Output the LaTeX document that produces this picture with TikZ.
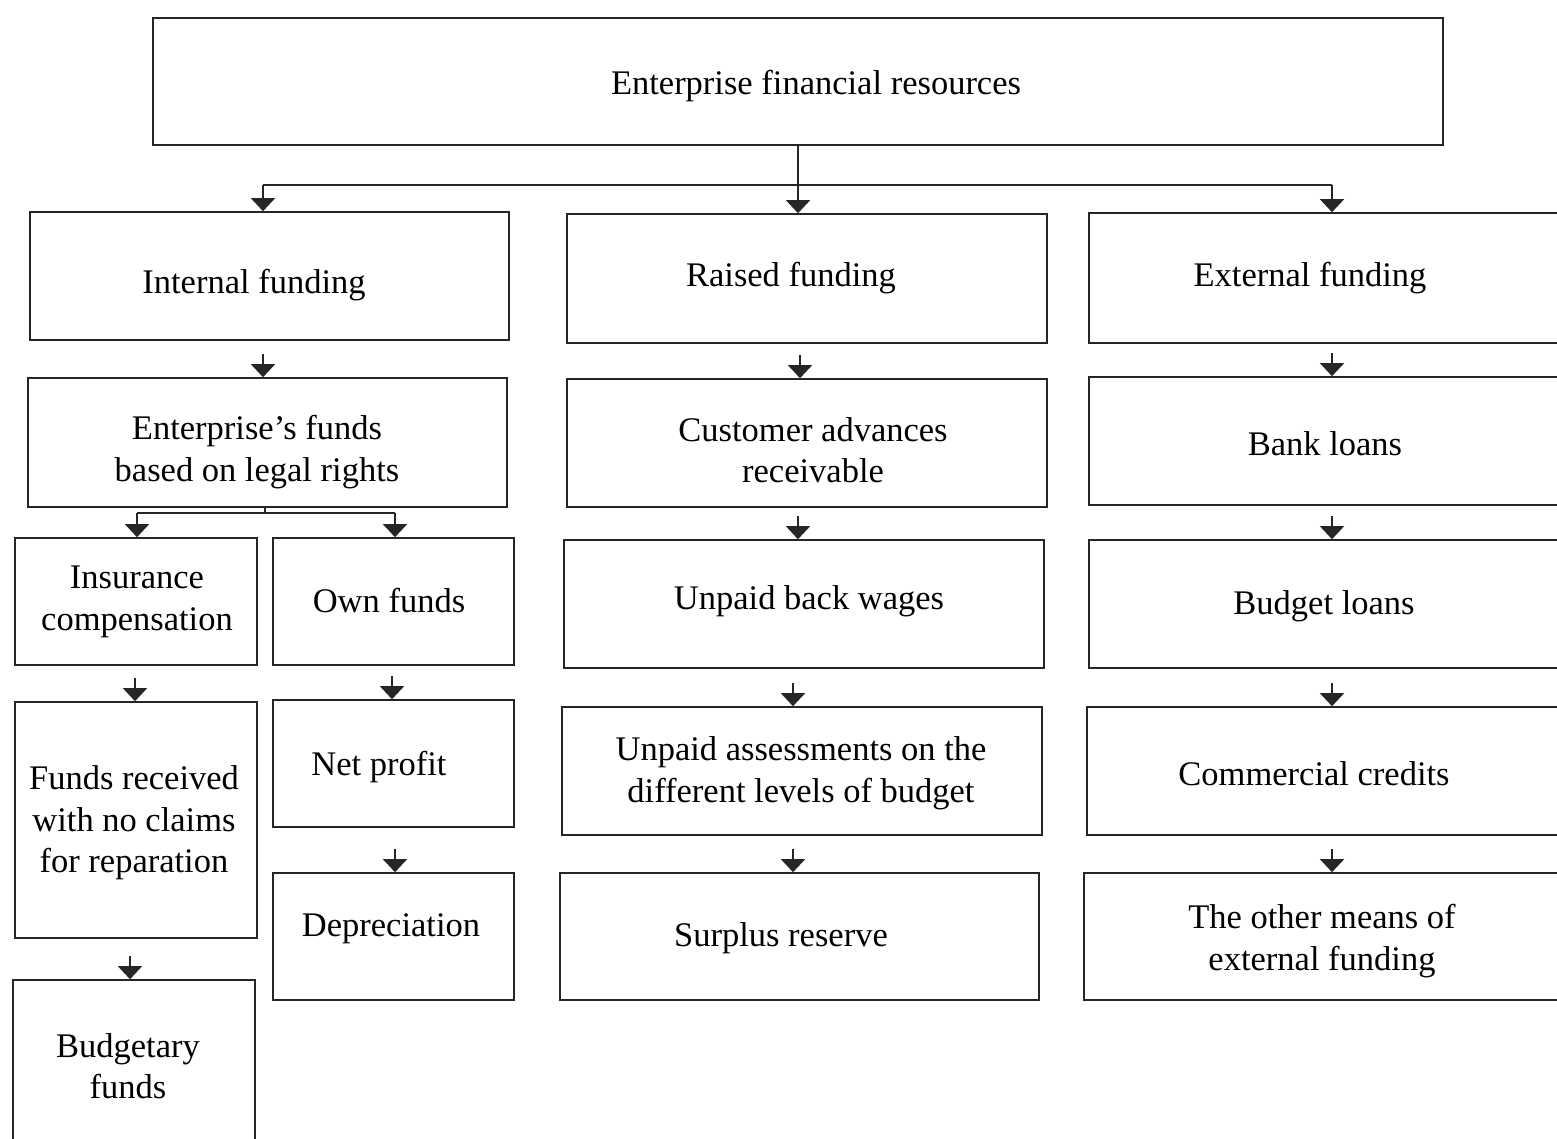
\documentclass[tikz,border=0pt]{standalone}
\usepackage{fontspec}
\setmainfont{Liberation Serif}
\usetikzlibrary{arrows.meta,fit,calc}
\newcommand\stubarrow[3]{\draw[arr] ($(#2.north -| #3,0)+(0,-23)$) -- (#2.north -| #3,0);}
\begin{document}
\begin{tikzpicture}[x=1pt,y=-1pt,
  box/.style={draw=black!85, line width=1.6pt, inner sep=0pt},
  lbl/.style={font=\fontsize{34.5}{41.5}\selectfont, align=center, inner sep=0pt, text=black, yshift=-3pt},
  con/.style={draw=black!85, line width=1.6pt},
  arr/.style={con, -{Triangle[width=24pt,length=13pt]}}]
\useasboundingbox (0,0) rectangle (1557,1138);

% boxes
\node[box, fit={(153,18) (1443,145)}] (top) {};
\node[box, fit={(30,212) (509,340)}] (int) {};
\node[box, fit={(567,214) (1047,343)}] (rai) {};
\node[box, fit={(1089,213) (1566,343)}] (ext) {};
\node[box, fit={(28,378) (507,507)}] (leg) {};
\node[box, fit={(567,379) (1047,507)}] (cus) {};
\node[box, fit={(1089,377) (1566,505)}] (bank) {};
\node[box, fit={(15,538) (257,665)}] (ins) {};
\node[box, fit={(273,538) (514,665)}] (own) {};
\node[box, fit={(564,540) (1044,668)}] (wag) {};
\node[box, fit={(1089,540) (1566,668)}] (bud) {};
\node[box, fit={(15,702) (257,938)}] (rec) {};
\node[box, fit={(273,700) (514,827)}] (net) {};
\node[box, fit={(562,707) (1042,835)}] (ass) {};
\node[box, fit={(1087,707) (1566,835)}] (com) {};
\node[box, fit={(273,873) (514,1000)}] (dep) {};
\node[box, fit={(560,873) (1039,1000)}] (sur) {};
\node[box, fit={(1084,873) (1566,1000)}] (oth) {};
\node[box, fit={(13,980) (255,1150)}] (bf) {};

% texts
\node[lbl] (ttop) at (816,83) {Enterprise financial resources};
\node[lbl] (tint) at (254,282) {Internal funding};
\node[lbl] (trai) at (791,275) {Raised funding};
\node[lbl] (text) at (1310,275) {External funding};
\node[lbl] (tleg) at (257,449) {Enterprise's funds\\based on legal rights};
\node[lbl] (tcus) at (813,447) {Customer advances\\receivable};
\node[lbl] (tbank) at (1325,441) {Bank loans};
\node[lbl] (tins) at (137,599) {Insurance\\compensation};
\node[lbl] (town) at (389,598) {Own funds};
\node[lbl] (twag) at (809,598) {Unpaid back wages};
\node[lbl] (tbud) at (1324,603) {Budget loans};
\node[lbl] (trec) at (134,820) {Funds received\\with no claims\\for reparation};
\node[lbl] (tnet) at (379,764) {Net profit};
\node[lbl] (tass) at (801,770) {Unpaid assessments on the\\different levels of budget};
\node[lbl] (tcom) at (1314,771) {Commercial credits};
\node[lbl] (tdep) at (391,926) {Depreciation};
\node[lbl] (tsur) at (781,935) {Surplus reserve};
\node[lbl] (toth) at (1322,938) {The other means of\\external funding};
\node[lbl] (tbf) at (128,1063) {Budgetary\\funds};

% top distribution
\coordinate (hl) at (263,185);
\coordinate (hr) at (1332,185);
\draw[con] (hl) -- (hr);
\draw[arr] (hl) -- (hl |- int.north);
\draw[arr] (hr) -- (hr |- ext.north);
\draw[arr] (top.south) -- (top.south |- rai.north);

% split under legal rights
\coordinate (sp) at (265,513);
\coordinate (spl) at (137,513);
\coordinate (spr) at (395,513);
\draw[con] (leg.south -| sp) -- (sp);
\draw[con] (spl) -- (spr);
\draw[arr] (spl) -- (spl |- ins.north);
\draw[arr] (spr) -- (spr |- own.north);

% short arrows
\stubarrow{int}{leg}{263}
\stubarrow{rai}{cus}{800}
\stubarrow{ext}{bank}{1332}
\stubarrow{cus}{wag}{798}
\stubarrow{bank}{bud}{1332}
\stubarrow{ins}{rec}{135}
\stubarrow{own}{net}{392}
\stubarrow{wag}{ass}{793}
\stubarrow{bud}{com}{1332}
\stubarrow{rec}{bf}{130}
\stubarrow{net}{dep}{395}
\stubarrow{ass}{sur}{793}
\stubarrow{com}{oth}{1332}
\end{tikzpicture}
\end{document}
